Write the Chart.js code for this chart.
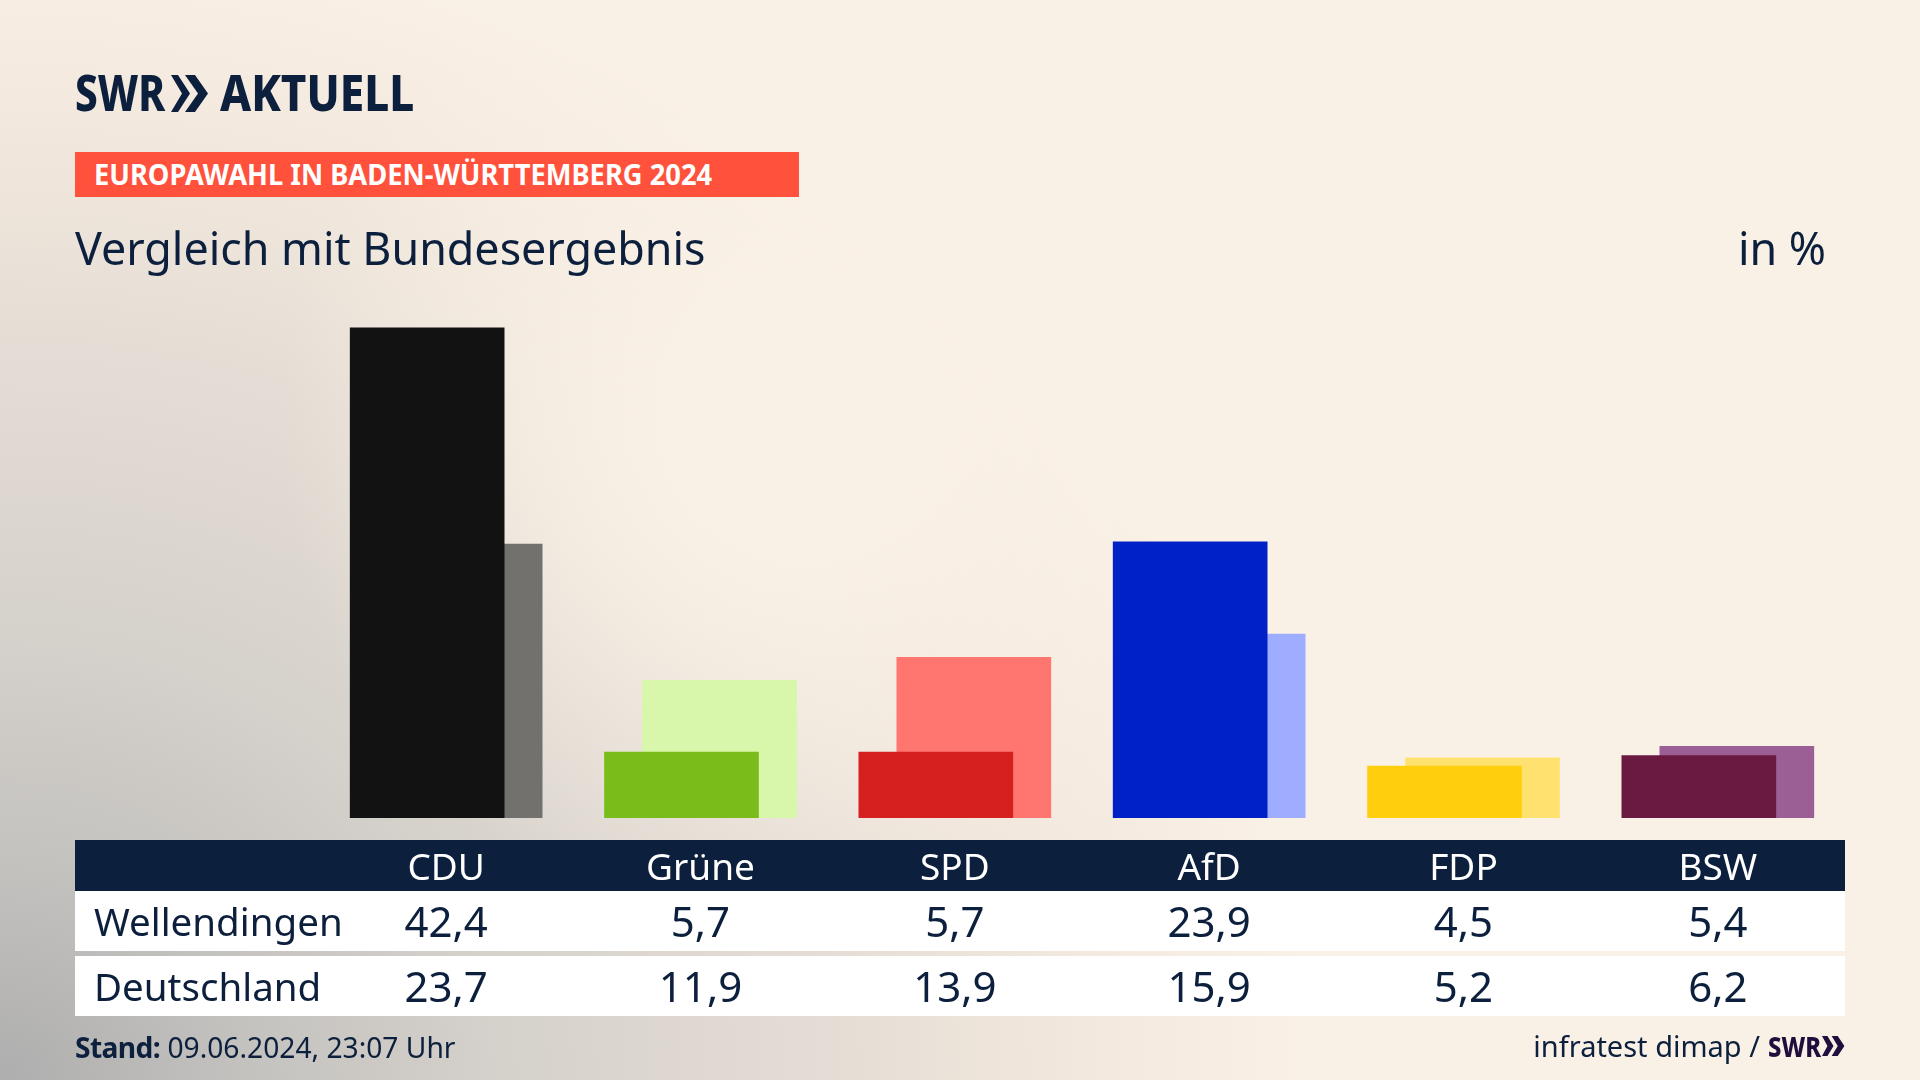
<!DOCTYPE html>
<html lang="de">
<head>
<meta charset="utf-8">
<title>Europawahl in Baden-Württemberg 2024</title>
<script src="https://cdn.jsdelivr.net/npm/chart.js@4"></script>
<style>
  html, body { margin: 0; padding: 0; }
  body {
    width: 1920px; height: 1080px; overflow: hidden; position: relative;
    background-color: #faf1e6;
    background-image:
      radial-gradient(circle 520px at 800px 420px, #faf1e6 0%, #faf1e6 25%, rgba(250,241,230,0) 100%),
      radial-gradient(ellipse 1300px 1150px at 0px 1080px, #aeaeae 0%, #c4c2bf 19%, #d5d1cb 38.5%, #e5ddd5 64%, #f3e9de 85%, #faf1e6 100%);
    font-family: "Noto Sans", sans-serif;
    color: #0c1f3d;
  }
  canvas { position: absolute; left: 0; top: 0; }
  .txt { position: absolute; white-space: nowrap; transform-origin: left top; }
  #logo1, #logo2 { font-weight: 800; font-size: 50px; line-height: 50px; top: 67px; }
  #logo1 { left: 75px; transform: scaleX(.81); }
  #logo2 { left: 220px; transform: scaleX(.88); }
  #chev { position: absolute; left: 171px; top: 75px; }
  #kicker {
    position: absolute; left: 75px; top: 152px; width: 724px; height: 45px;
    background: #ff513c; color: #fff; font-weight: 700; font-size: 28px; line-height: 45px;
  }
  #kicker span { display: block; margin-left: 19px; transform: scaleX(.975); transform-origin: left center; white-space: nowrap; }
  #title { left: 75px; top: 218px; font-size: 44.8px; line-height: 60px; }
  #unit { right: 94px; top: 218px; font-size: 44.8px; line-height: 60px; }
  table { position: absolute; left: 75px; top: 840px; width: 1770px; border-collapse: collapse; table-layout: fixed; }
  th, td { padding: 0; text-align: center; font-weight: 400; white-space: nowrap; }
  thead th { background: #0c1f3d; color: #fff; height: 51px; font-size: 37px; line-height: 49px; }
  tbody td { background: #fff; height: 60px; font-size: 42px; line-height: 60px; }
  tbody td.rowname { text-align: left; padding-left: 19px; font-size: 38.5px; }
  tr.gap td { height: 5px; background: transparent; line-height: 0; font-size: 0; }
  #stand { left: 75px; top: 1028px; font-size: 28.2px; line-height: 38px; }
  #stand b { font-weight: 700; letter-spacing: -.6px; }
  #source { right: 160px; top: 1026px; font-size: 29px; line-height: 40px; }
  #swr2 { position: absolute; left: 1768px; top: 1026px; font-size: 28px; line-height: 40px; font-weight: 800; color: #1e0f3c; transform: scaleX(.85); transform-origin: left top; }
  #chev2 { position: absolute; left: 1822px; top: 1036px; }
</style>
</head>
<body>
<canvas id="chart" width="1920" height="1080"></canvas>

<div class="txt" id="logo1">SWR</div>
<svg id="chev" width="38" height="37" viewBox="0 0 38 37">
  <polygon points="0,0 7,0 19,18.5 7,37 0,37 11,18.5" fill="#0c1f3d"/>
  <polygon points="14,0 24,0 37,18.5 24,37 14,37 27,18.5" fill="#0c1f3d"/>
</svg>
<div class="txt" id="logo2">AKTUELL</div>
<div id="kicker"><span>EUROPAWAHL IN BADEN-WÜRTTEMBERG 2024</span></div>
<div class="txt" id="title">Vergleich mit Bundesergebnis</div>
<div class="txt" id="unit">in %</div>

<table id="tbl"></table>

<div class="txt" id="stand"><b>Stand:</b> 09.06.2024, 23:07 Uhr</div>
<div class="txt" id="source">infratest dimap /</div>
<div id="swr2">SWR</div>
<svg id="chev2" width="23" height="20" viewBox="0 0 38 37" preserveAspectRatio="none">
  <polygon points="0,0 9,0 19,18.5 9,37 0,37 9,18.5" fill="#1e0f3c"/>
  <polygon points="16,0 26,0 37,18.5 26,37 16,37 26,18.5" fill="#1e0f3c"/>
</svg>

<script>
const parties = ['CDU', 'Grüne', 'SPD', 'AfD', 'FDP', 'BSW'];
const wellendingen = [42.4, 5.7, 5.7, 23.9, 4.5, 5.4];
const deutschland = [23.7, 11.9, 13.9, 15.9, 5.2, 6.2];
const frontColors = ['#121212', '#7abc1a', '#d6201f', '#0020c8', '#ffcf0d', '#6a1a40'];
const backColors = ['#72716e', '#d8f7aa', '#ff7670', '#9eadff', '#ffe170', '#9b5f96'];

const fmt = v => v.toFixed(1).replace('.', ',');

// Tabelle unter dem Diagramm
let html = '<colgroup><col style="width:244px">' + parties.map(() => '<col>').join('') + '</colgroup>';
html += '<thead><tr><th></th>' + parties.map(p => '<th>' + p + '</th>').join('') + '</tr></thead><tbody>';
html += '<tr><td class="rowname">Wellendingen</td>' + wellendingen.map(v => '<td>' + fmt(v) + '</td>').join('') + '</tr>';
html += '<tr class="gap"><td colspan="7"></td></tr>';
html += '<tr><td class="rowname">Deutschland</td>' + deutschland.map(v => '<td>' + fmt(v) + '</td>').join('') + '</tr></tbody>';
document.getElementById('tbl').innerHTML = html;

// Balkenversatz: beide Serien liegen auf eigener x-Achse, leicht gegeneinander verschoben
const shift = 0.0747;

new Chart(document.getElementById('chart').getContext('2d'), {
  type: 'bar',
  data: {
    datasets: [
      {
        label: 'Wellendingen',
        data: parties.map((p, i) => ({ x: i, y: wellendingen[i] })),
        backgroundColor: frontColors,
        xAxisID: 'x',
        order: 1,
        grouped: false,
        barThickness: 154
      },
      {
        label: 'Deutschland',
        data: parties.map((p, i) => ({ x: i, y: deutschland[i] })),
        backgroundColor: backColors,
        xAxisID: 'x2',
        order: 2,
        grouped: false,
        barThickness: 154
      }
    ]
  },
  options: {
    responsive: false,
    animation: false,
    devicePixelRatio: 1,
    layout: { padding: { left: 319, right: 75, top: 240, bottom: 262 } },
    plugins: { legend: { display: false }, tooltip: { enabled: false } },
    scales: {
      x: { type: 'linear', display: false, offset: false, min: -0.5 + shift, max: 5.5 + shift },
      x2: { type: 'linear', display: false, offset: false, min: -0.5 - shift, max: 5.5 - shift },
      y: { display: false, min: 0, max: 50 }
    }
  }
});
</script>
</body>
</html>
